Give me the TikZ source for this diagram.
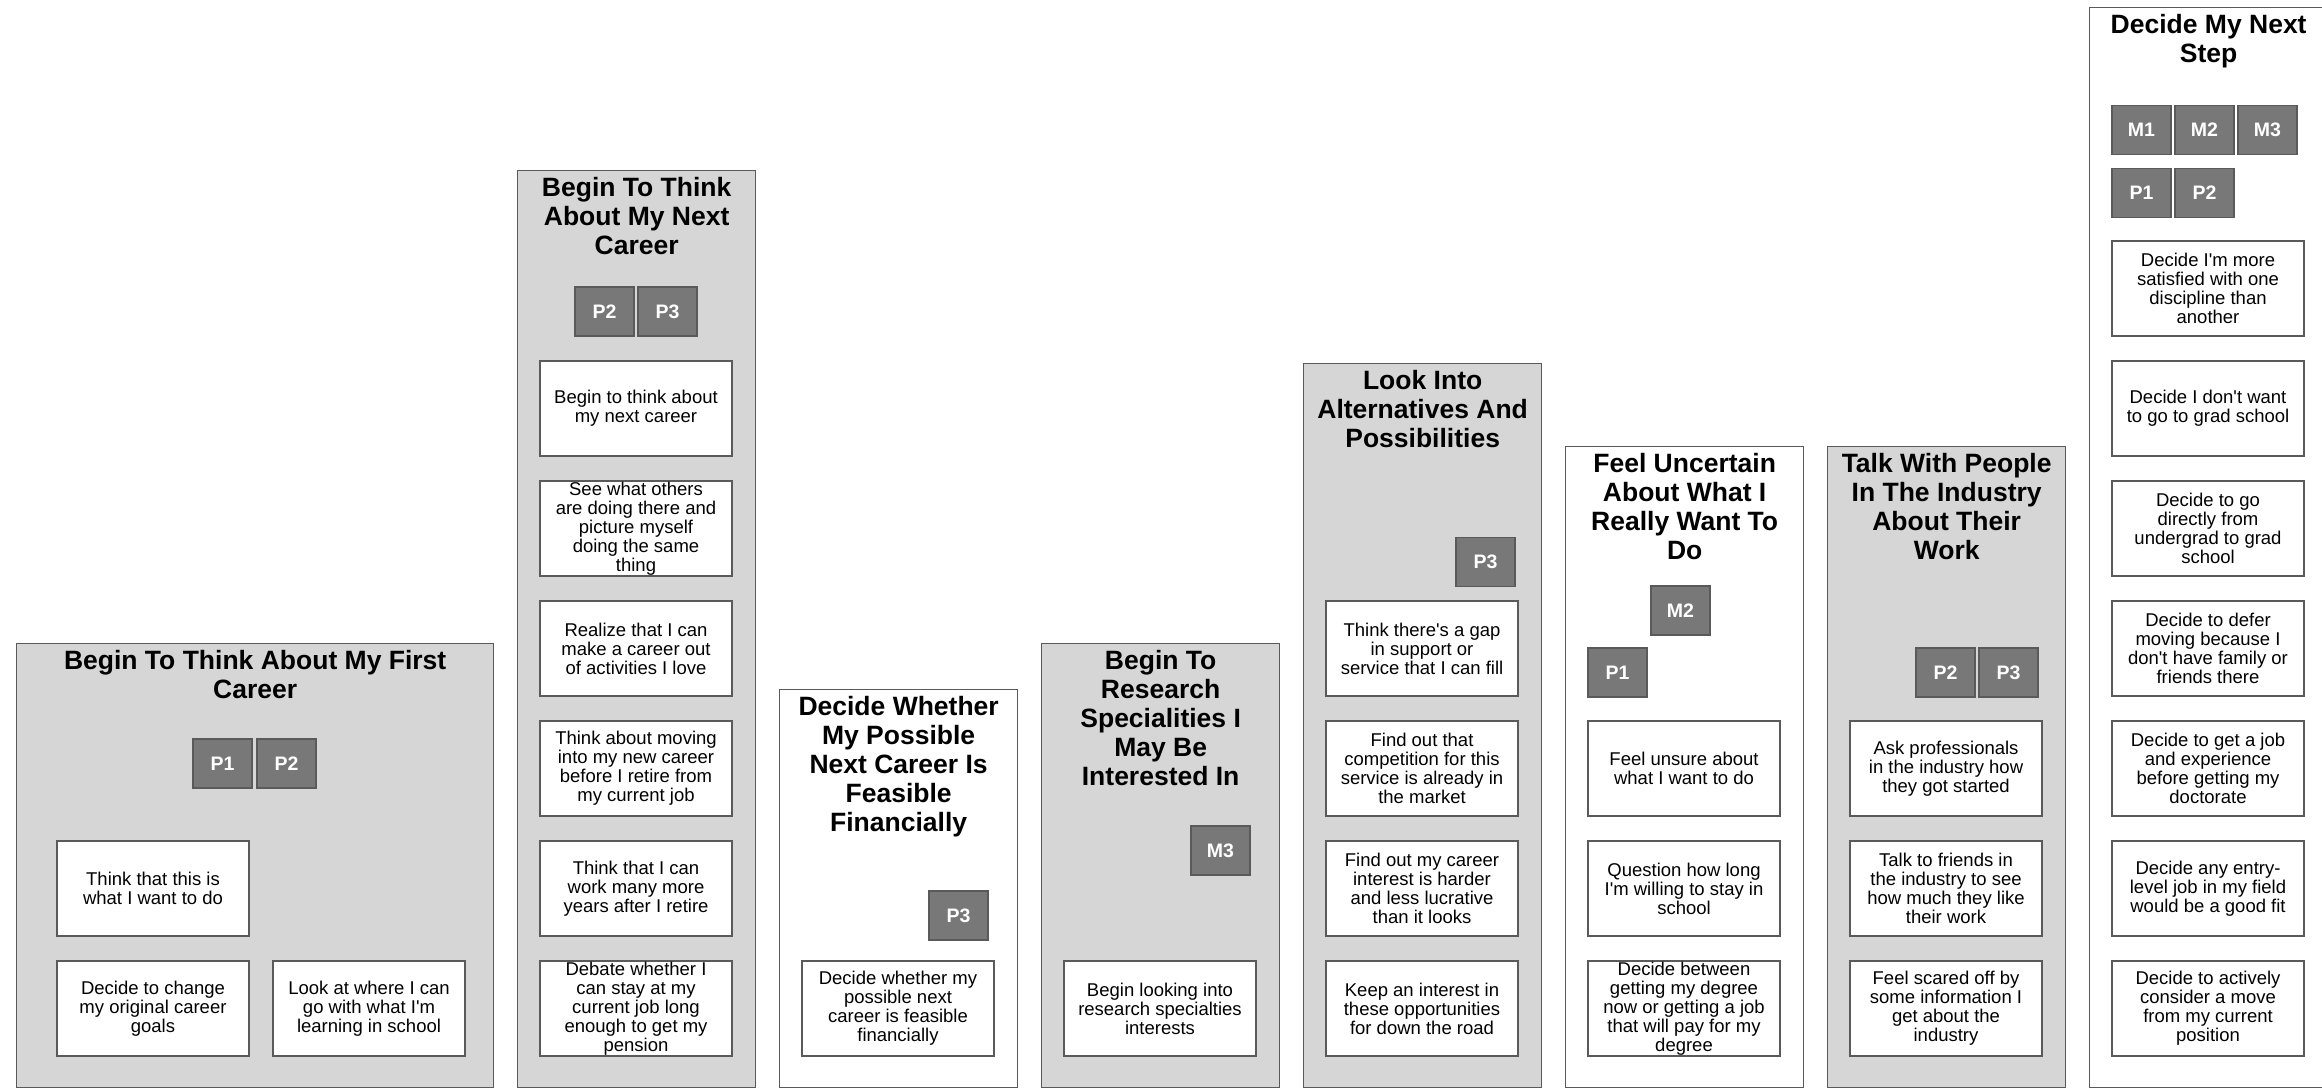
\documentclass[tikz,border=0pt]{standalone}
\usepackage{fontspec}
\setmainfont{Liberation Sans}[Ligatures=TeXOff]
\usetikzlibrary{positioning}
\definecolor{panelgray}{HTML}{D6D6D6}
\definecolor{badgegray}{HTML}{787878}
\definecolor{edgegray}{HTML}{5A5A5A}

\begin{document}
\begin{tikzpicture}[x=1pt,y=1pt,node distance=120pt,line width=1.3pt,
    panel/.style={draw=edgegray,fill=panelgray,inner sep=0pt,anchor=north west},
    blank/.style={panel,fill=white},
    head/.style={inner sep=0pt,align=center,font=\bfseries\fontsize{26.5}{29}\selectfont},
    card/.style={draw=edgegray,fill=white,minimum width=192pt,minimum height=95pt,inner sep=0pt,align=center,font=\fontsize{18.5}{19}\selectfont},
    badge/.style={draw=edgegray,fill=badgegray,minimum width=59pt,minimum height=49pt,inner sep=0pt,text=white,font=\bfseries\fontsize{19.5}{20}\selectfont}]
    \useasboundingbox (0,0) rectangle (2322,1088);

    \node[panel, minimum width=477pt, minimum height=444pt] (f1) at (16,445) {};
    \node[panel, minimum width=238pt, minimum height=917pt] (f2) at (517,918) {};
    \node[blank, minimum width=238pt, minimum height=398pt] (f3) at (779,399) {};
    \node[panel, minimum width=238pt, minimum height=444pt] (f4) at (1041,445) {};
    \node[panel, minimum width=238pt, minimum height=724pt] (f5) at (1303,725) {};
    \node[blank, minimum width=238pt, minimum height=641pt] (f6) at (1565,642) {};
    \node[panel, minimum width=238pt, minimum height=641pt] (f7) at (1827,642) {};
    \node[blank, minimum width=238pt, minimum height=1080pt] (f8) at (2089,1081) {};

    \node[head] (t1) [below=7pt of f1.north] {Begin To Think About My First\\Career};
    \node[head] (t2) [below=7pt of f2.north] {Begin To Think\\About My Next\\Career};
    \node[head] (t3) [below=7pt of f3.north] {Decide Whether\\My Possible\\Next Career Is\\Feasible\\Financially};
    \node[head] (t4) [below=7pt of f4.north] {Begin To\\Research\\Specialities I\\May Be\\Interested In};
    \node[head] (t5) [below=7pt of f5.north] {Look Into\\Alternatives And\\Possibilities};
    \node[head] (t6) [below=7pt of f6.north] {Feel Uncertain\\About What I\\Really Want To\\Do};
    \node[head] (t7) [below=7pt of f7.north] {Talk With People\\In The Industry\\About Their\\Work};
    \node[head] (t8) [below=7pt of f8.north] {Decide My Next\\Step};

    \node[badge] (p11) at (222.5,324.5) {P1};
    \node[badge] (p12) [right of = p11, node distance=64pt] {P2};
    \node[badge] (p22) at (604.5,776.5) {P2};
    \node[badge] (p23) [right of = p22, node distance=63pt] {P3};
    \node[badge] (p33) at (958.5,172.5) {P3};
    \node[badge] (m43) at (1220.5,237.5) {M3};
    \node[badge] (p53) at (1485.5,526) {P3};
    \node[badge] (m62) at (1680.5,477.5) {M2};
    \node[badge] (p61) at (1617.5,415.5) {P1};
    \node[badge] (p72) at (1945.5,415.5) {P2};
    \node[badge] (p73) [right of = p72, node distance=63pt] {P3};
    \node[badge] (m81) at (2141.5,958) {M1};
    \node[badge] (m82) [right of = m81, node distance=63pt] {M2};
    \node[badge] (m83) [right of = m82, node distance=63pt] {M3};
    \node[badge] (p81) [below of = m81, node distance=63pt] {P1};
    \node[badge] (p82) [right of = p81, node distance=63pt] {P2};

    \node[card] (c1a) at (153,199.5) {Think that this is\\what I want to do};
    \node[card] (c1b) [below of = c1a] {Decide to change\\my original career\\goals};
    \node[card] (c1c) [right of = c1b, node distance=216pt] {Look at where I can\\go with what I'm\\learning in school};

    \node[card] (c2a) at (636,679.5) {Begin to think about\\my next career};
    \node[card] (c2b) [below of = c2a] {See what others\\are doing there and\\picture myself\\doing the same\\thing};
    \node[card] (c2c) [below of = c2b] {Realize that I can\\make a career out\\of activities I love};
    \node[card] (c2d) [below of = c2c] {Think about moving\\into my new career\\before I retire from\\my current job};
    \node[card] (c2e) [below of = c2d] {Think that I can\\work many more\\years after I retire};
    \node[card] (c2f) [below of = c2e] {Debate whether I\\can stay at my\\current job long\\enough to get my\\pension};

    \node[card] (c3a) at (898,79.5) {Decide whether my\\possible next\\career is feasible\\financially};

    \node[card] (c4a) at (1160,79.5) {Begin looking into\\research specialties\\interests};

    \node[card] (c5a) at (1422,439.5) {Think there's a gap\\in support or\\service that I can fill};
    \node[card] (c5b) [below of = c5a] {Find out that\\competition for this\\service is already in\\the market};
    \node[card] (c5c) [below of = c5b] {Find out my career\\interest is harder\\and less lucrative\\than it looks};
    \node[card] (c5d) [below of = c5c] {Keep an interest in\\these opportunities\\for down the road};

    \node[card] (c6a) at (1684,319.5) {Feel unsure about\\what I want to do};
    \node[card] (c6b) [below of = c6a] {Question how long\\I'm willing to stay in\\school};
    \node[card] (c6c) [below of = c6b] {Decide between\\getting my degree\\now or getting a job\\that will pay for my\\degree};

    \node[card] (c7a) at (1946,319.5) {Ask professionals\\in the industry how\\they got started};
    \node[card] (c7b) [below of = c7a] {Talk to friends in\\the industry to see\\how much they like\\their work};
    \node[card] (c7c) [below of = c7b] {Feel scared off by\\some information I\\get about the\\industry};

    \node[card] (c8a) at (2208,799.5) {Decide I'm more\\satisfied with one\\discipline than\\another};
    \node[card] (c8b) [below of = c8a] {Decide I don't want\\to go to grad school};
    \node[card] (c8c) [below of = c8b] {Decide to go\\directly from\\undergrad to grad\\school};
    \node[card] (c8d) [below of = c8c] {Decide to defer\\moving because I\\don't have family or\\friends there};
    \node[card] (c8e) [below of = c8d] {Decide to get a job\\and experience\\before getting my\\doctorate};
    \node[card] (c8f) [below of = c8e] {Decide any entry-\\level job in my field\\would be a good fit};
    \node[card] (c8g) [below of = c8f] {Decide to actively\\consider a move\\from my current\\position};
\end{tikzpicture}
\end{document}
